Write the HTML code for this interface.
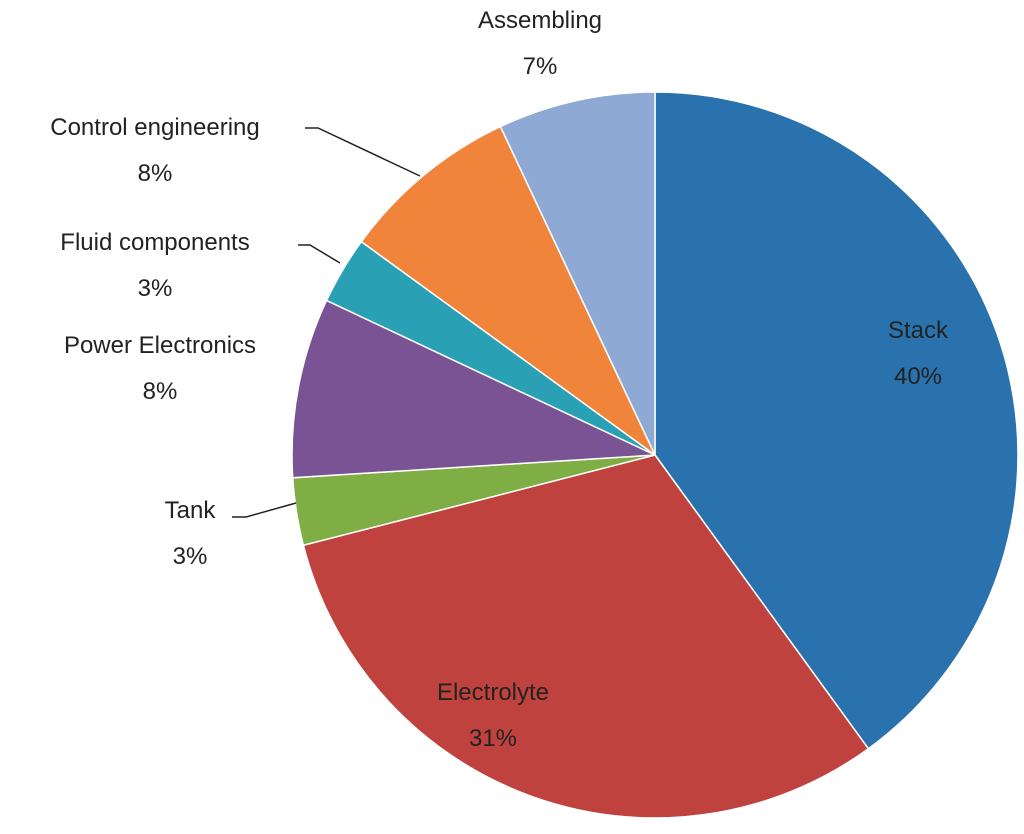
<!DOCTYPE html>
<html><head><meta charset="utf-8"><style>
body{margin:0;background:#fff;}
svg text{font-family:"Liberation Sans",sans-serif;font-size:24px;fill:#222;}
</style></head><body>
<svg width="1024" height="829">
<g id="slices"></g>
<g id="labels"></g>
<polyline points="305,128 318,128 420,176" fill="none" stroke="#222" stroke-width="1.5"/>
<polyline points="298,245 310,245 340,263" fill="none" stroke="#222" stroke-width="1.5"/>
<polyline points="232,517 246,517 296,503" fill="none" stroke="#222" stroke-width="1.5"/>
</svg>
<script>
const categories=["Stack","Electrolyte","Tank","Power Electronics","Fluid components","Control engineering","Assembling"];
const values=[40,31,3,8,3,8,7];
const colors=["#2a72ad","#c0423f","#7fae45","#7a5394","#2aa0b5","#f0843a","#8eaad4"];
const labelPos=[[918,338],[493,700],[190,518],[160,353],[155,250],[155,135],[540,28]];
const cx=655,cy=455,r=363;
const ns="http://www.w3.org/2000/svg";
const total=values.reduce((a,b)=>a+b,0);
let a0=0;
const gs=document.getElementById('slices'),gl=document.getElementById('labels');
values.forEach((v,i)=>{
  const a1=a0+v/total*2*Math.PI;
  const x0=cx+r*Math.sin(a0),y0=cy-r*Math.cos(a0),x1=cx+r*Math.sin(a1),y1=cy-r*Math.cos(a1);
  const p=document.createElementNS(ns,'path');
  p.setAttribute('d',`M${cx},${cy}L${x0},${y0}A${r},${r} 0 ${a1-a0>Math.PI?1:0} 1 ${x1},${y1}Z`);
  p.setAttribute('fill',colors[i]);p.setAttribute('stroke','#fff');p.setAttribute('stroke-width','1.5');
  
  
  gs.appendChild(p);
  const [lx,ly]=labelPos[i];
  const t=document.createElementNS(ns,'text');
  t.setAttribute('x',lx);t.setAttribute('y',ly);t.setAttribute('text-anchor','middle');
  t.textContent=categories[i];
  
  
  gl.appendChild(t);
  const t2=document.createElementNS(ns,'text');
  t2.setAttribute('x',lx);t2.setAttribute('y',ly+46);t2.setAttribute('text-anchor','middle');
  t2.textContent=Math.round(v/total*100)+'%';
  
  
  gl.appendChild(t2);
  a0=a1;
});
</script>
</body></html>
